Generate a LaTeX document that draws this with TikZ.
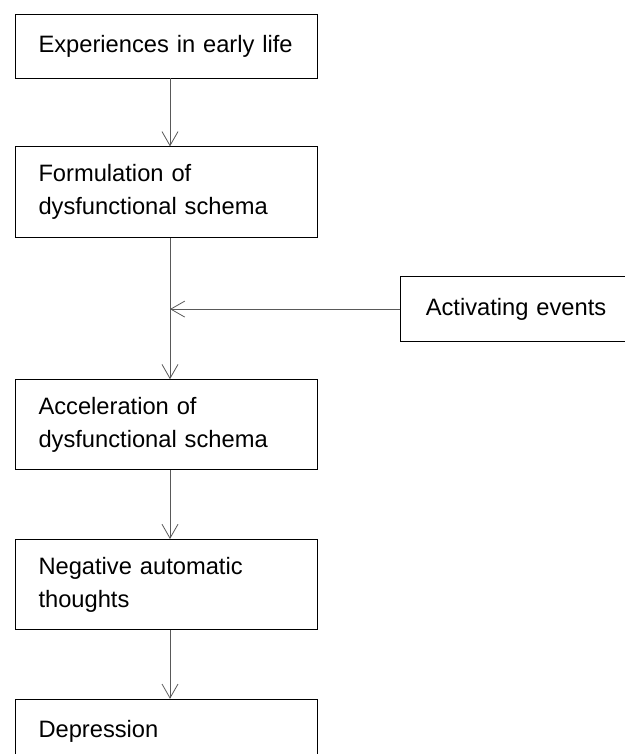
\documentclass[tikz,border=0pt]{standalone}
\usepackage{fontspec}
\setmainfont{Liberation Sans}
\usepackage{tikz}
\usetikzlibrary{arrows.meta,positioning}
\tikzset{
  stage/.style={draw, rectangle, line width=0.8pt, minimum width=302pt, text width=255pt,
    inner xsep=23pt, inner ysep=2pt, align=left, font=\fontsize{23.7}{33}\selectfont},
  event/.style={stage, minimum width=240pt, text width=190pt, minimum height=65pt},
  flow/.style={draw=black!65, line width=0.8pt, -{Straight Barb[length=14pt,width=16pt,line width=0.8pt]}}
}

\begin{document}
\begin{tikzpicture}
    \useasboundingbox (0,0) rectangle (624pt,-754pt);
    % boxes, top to bottom
    \node[stage, minimum height=64pt] (exp) at (166pt,-46pt) {Experiences in early life};
    \node[stage, minimum height=91pt] (form) [below=68pt of exp] {Formulation of\\dysfunctional schema};
    \node[stage, minimum height=90pt] (acc) [below=141pt of form] {Acceleration of\\dysfunctional schema};
    \node[stage, minimum height=90pt] (neg) [below=69pt of acc] {Negative automatic\\thoughts};
    \node[stage, minimum height=64pt] (dep) [below=69pt of neg] {Depression};
    % side input
    \node[event, anchor=north west] (act) [below right=38pt and 83pt of form.south east] {Activating events};

    % links
    \coordinate (trunk) at ([xshift=4pt]acc.north);
    \draw[flow] ([xshift=4pt]exp.south) -- ([xshift=4pt]form.north);
    \draw[flow] ([xshift=4pt]form.south) -- (trunk);
    \draw[flow] (act.west) -- (act.west -| trunk);
    \draw[flow] ([xshift=4pt]acc.south) -- ([xshift=4pt]neg.north);
    \draw[flow] ([xshift=4pt]neg.south) -- ([xshift=4pt]dep.north);
\end{tikzpicture}
\end{document}
